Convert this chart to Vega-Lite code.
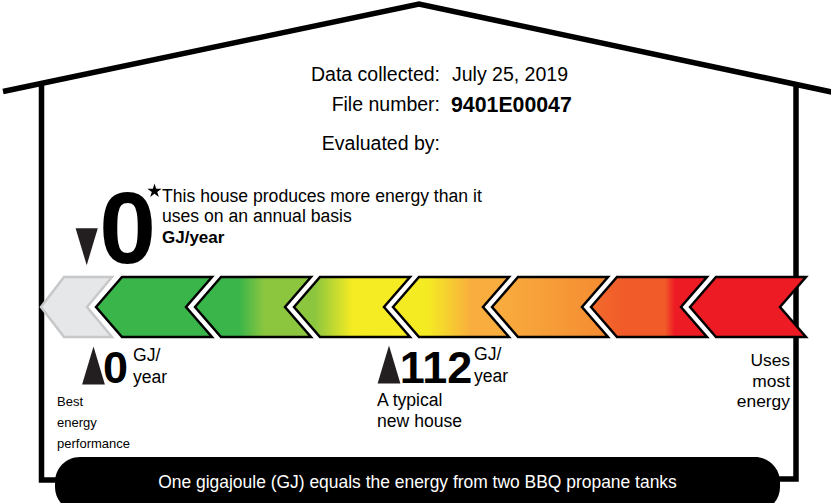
{
  "$schema": "https://vega.github.io/schema/vega-lite/v6.json",
  "width": 831,
  "height": 503,
  "autosize": {"type": "none"},
  "padding": 0,
  "background": "white",
  "config": {"view": {"stroke": null}, "text": {"font": "Liberation Sans, Arial, sans-serif"}},
  "datasets": {
    "house": [
      {"p": "roof", "i": 0, "x": 3, "y": 91.5}, {"p": "roof", "i": 1, "x": 419, "y": 4}, {"p": "roof", "i": 2, "x": 834, "y": 92.5},
      {"p": "lw", "i": 0, "x": 41.5, "y": 84}, {"p": "lw", "i": 1, "x": 41.5, "y": 480}, {"p": "lw", "i": 2, "x": 60, "y": 480},
      {"p": "rw", "i": 0, "x": 796, "y": 85}, {"p": "rw", "i": 1, "x": 796, "y": 479}, {"p": "rw", "i": 2, "x": 775, "y": 479}
    ],
    "chev": [
      {"c": "grey", "i": 0, "x": 41, "y": 307}, {"c": "grey", "i": 1, "x": 64, "y": 277}, {"c": "grey", "i": 2, "x": 112, "y": 277}, {"c": "grey", "i": 3, "x": 87, "y": 307}, {"c": "grey", "i": 4, "x": 112, "y": 337}, {"c": "grey", "i": 5, "x": 64, "y": 337},
      {"c": "c1", "i": 0, "x": 96, "y": 307}, {"c": "c1", "i": 1, "x": 122, "y": 277}, {"c": "c1", "i": 2, "x": 212, "y": 277}, {"c": "c1", "i": 3, "x": 186, "y": 307}, {"c": "c1", "i": 4, "x": 212, "y": 337}, {"c": "c1", "i": 5, "x": 122, "y": 337},
      {"c": "c2", "i": 0, "x": 195, "y": 307}, {"c": "c2", "i": 1, "x": 221, "y": 277}, {"c": "c2", "i": 2, "x": 311, "y": 277}, {"c": "c2", "i": 3, "x": 285, "y": 307}, {"c": "c2", "i": 4, "x": 311, "y": 337}, {"c": "c2", "i": 5, "x": 221, "y": 337},
      {"c": "c3", "i": 0, "x": 294, "y": 307}, {"c": "c3", "i": 1, "x": 320, "y": 277}, {"c": "c3", "i": 2, "x": 410, "y": 277}, {"c": "c3", "i": 3, "x": 384, "y": 307}, {"c": "c3", "i": 4, "x": 410, "y": 337}, {"c": "c3", "i": 5, "x": 320, "y": 337},
      {"c": "c4", "i": 0, "x": 393, "y": 307}, {"c": "c4", "i": 1, "x": 419, "y": 277}, {"c": "c4", "i": 2, "x": 509, "y": 277}, {"c": "c4", "i": 3, "x": 483, "y": 307}, {"c": "c4", "i": 4, "x": 509, "y": 337}, {"c": "c4", "i": 5, "x": 419, "y": 337},
      {"c": "c5", "i": 0, "x": 492, "y": 307}, {"c": "c5", "i": 1, "x": 518, "y": 277}, {"c": "c5", "i": 2, "x": 608, "y": 277}, {"c": "c5", "i": 3, "x": 582, "y": 307}, {"c": "c5", "i": 4, "x": 608, "y": 337}, {"c": "c5", "i": 5, "x": 518, "y": 337},
      {"c": "c6", "i": 0, "x": 591, "y": 307}, {"c": "c6", "i": 1, "x": 617, "y": 277}, {"c": "c6", "i": 2, "x": 707, "y": 277}, {"c": "c6", "i": 3, "x": 681, "y": 307}, {"c": "c6", "i": 4, "x": 707, "y": 337}, {"c": "c6", "i": 5, "x": 617, "y": 337},
      {"c": "c7", "i": 0, "x": 690, "y": 307}, {"c": "c7", "i": 1, "x": 716, "y": 277}, {"c": "c7", "i": 2, "x": 806, "y": 277}, {"c": "c7", "i": 3, "x": 780, "y": 307}, {"c": "c7", "i": 4, "x": 806, "y": 337}, {"c": "c7", "i": 5, "x": 716, "y": 337}
    ]
  },
  "encoding": {
    "x": {"field": "x", "type": "quantitative", "scale": {"domain": [0, 831], "nice": false, "zero": false}, "axis": null},
    "y": {"field": "y", "type": "quantitative", "scale": {"domain": [0, 503], "nice": false, "zero": false, "reverse": true}, "axis": null}
  },
  "layer": [
    {
      "data": {"name": "house"},
      "mark": {"type": "line", "stroke": "black", "strokeWidth": 5.5, "strokeJoin": "miter", "strokeCap": "butt"},
      "encoding": {"detail": {"field": "p"}, "order": {"field": "i", "type": "quantitative"}}
    },
    {
      "data": {"name": "chev"}, "transform": [{"filter": "datum.c == 'grey'"}],
      "mark": {"type": "line", "interpolate": "linear-closed", "fill": "#e6e7e8", "stroke": "#c7c8ca", "strokeWidth": 2.5, "strokeJoin": "miter"},
      "encoding": {"order": {"field": "i", "type": "quantitative"}}
    },
    {
      "data": {"name": "chev"}, "transform": [{"filter": "datum.c == 'c1'"}],
      "mark": {"type": "line", "interpolate": "linear-closed", "fill": "#3ab54a", "stroke": "black", "strokeWidth": 2.5, "strokeJoin": "miter"},
      "encoding": {"order": {"field": "i", "type": "quantitative"}}
    },
    {
      "data": {"name": "chev"}, "transform": [{"filter": "datum.c == 'c2'"}],
      "mark": {"type": "line", "interpolate": "linear-closed", "stroke": "black", "strokeWidth": 2.5, "strokeJoin": "miter",
        "fill": {"gradient": "linear", "x1": 0, "y1": 0, "x2": 1, "y2": 0, "stops": [{"offset": 0, "color": "#3ab54a"}, {"offset": 0.38, "color": "#3ab54a"}, {"offset": 0.6, "color": "#8cc63f"}, {"offset": 1, "color": "#8cc63f"}]}},
      "encoding": {"order": {"field": "i", "type": "quantitative"}}
    },
    {
      "data": {"name": "chev"}, "transform": [{"filter": "datum.c == 'c3'"}],
      "mark": {"type": "line", "interpolate": "linear-closed", "stroke": "black", "strokeWidth": 2.5, "strokeJoin": "miter",
        "fill": {"gradient": "linear", "x1": 0, "y1": 0, "x2": 1, "y2": 0, "stops": [{"offset": 0, "color": "#8cc63f"}, {"offset": 0.18, "color": "#8cc63f"}, {"offset": 0.5, "color": "#f4eb23"}, {"offset": 1, "color": "#f7ec22"}]}},
      "encoding": {"order": {"field": "i", "type": "quantitative"}}
    },
    {
      "data": {"name": "chev"}, "transform": [{"filter": "datum.c == 'c4'"}],
      "mark": {"type": "line", "interpolate": "linear-closed", "stroke": "black", "strokeWidth": 2.5, "strokeJoin": "miter",
        "fill": {"gradient": "linear", "x1": 0, "y1": 0, "x2": 1, "y2": 0, "stops": [{"offset": 0, "color": "#f4eb23"}, {"offset": 0.3, "color": "#f4eb23"}, {"offset": 0.68, "color": "#f9ad3e"}, {"offset": 1, "color": "#f9ad3e"}]}},
      "encoding": {"order": {"field": "i", "type": "quantitative"}}
    },
    {
      "data": {"name": "chev"}, "transform": [{"filter": "datum.c == 'c5'"}],
      "mark": {"type": "line", "interpolate": "linear-closed", "stroke": "black", "strokeWidth": 2.5, "strokeJoin": "miter",
        "fill": {"gradient": "linear", "x1": 0, "y1": 0, "x2": 1, "y2": 0, "stops": [{"offset": 0, "color": "#f9ae3f"}, {"offset": 1, "color": "#f48b31"}]}},
      "encoding": {"order": {"field": "i", "type": "quantitative"}}
    },
    {
      "data": {"name": "chev"}, "transform": [{"filter": "datum.c == 'c6'"}],
      "mark": {"type": "line", "interpolate": "linear-closed", "stroke": "black", "strokeWidth": 2.5, "strokeJoin": "miter",
        "fill": {"gradient": "linear", "x1": 0, "y1": 0, "x2": 1, "y2": 0, "stops": [{"offset": 0, "color": "#f26b2c"}, {"offset": 0.3, "color": "#f15a29"}, {"offset": 0.64, "color": "#f15a29"}, {"offset": 0.72, "color": "#ed1c24"}, {"offset": 1, "color": "#ed1c24"}]}},
      "encoding": {"order": {"field": "i", "type": "quantitative"}}
    },
    {
      "data": {"name": "chev"}, "transform": [{"filter": "datum.c == 'c7'"}],
      "mark": {"type": "line", "interpolate": "linear-closed", "fill": "#ed1c24", "stroke": "black", "strokeWidth": 2.5, "strokeJoin": "miter"},
      "encoding": {"order": {"field": "i", "type": "quantitative"}}
    },
    {
      "data": {"values": [{"x": 55, "x2": 780, "y": 457, "y2": 512}]},
      "mark": {"type": "rect", "color": "black", "cornerRadius": 25},
      "encoding": {"x2": {"field": "x2"}, "y2": {"field": "y2"}}
    },
    {
      "data": {"values": [{"t": "Data collected:", "x": 440, "y": 81}, {"t": "File number:", "x": 440, "y": 111}, {"t": "Evaluated by:", "x": 440, "y": 150}]},
      "mark": {"type": "text", "align": "right", "baseline": "alphabetic", "fontSize": 19.5, "color": "black"},
      "encoding": {"text": {"field": "t"}}
    },
    {
      "data": {"values": [{"t": "July 25, 2019", "x": 452, "y": 81}]},
      "mark": {"type": "text", "align": "left", "baseline": "alphabetic", "fontSize": 19.5, "color": "black"},
      "encoding": {"text": {"field": "t"}}
    },
    {
      "data": {"values": [{"t": "9401E00047", "x": 451, "y": 112}]},
      "mark": {"type": "text", "align": "left", "baseline": "alphabetic", "fontSize": 21.3, "fontWeight": "bold", "color": "black"},
      "encoding": {"text": {"field": "t"}}
    },
    {
      "data": {"values": [
        {"t": "This house produces more energy than it", "x": 162, "y": 202},
        {"t": "uses on an annual basis", "x": 162, "y": 222},
        {"t": "A typical", "x": 377, "y": 406},
        {"t": "new house", "x": 377, "y": 427},
        {"t": "GJ/", "x": 133, "y": 361},
        {"t": "year", "x": 133, "y": 383},
        {"t": "GJ/", "x": 474, "y": 360},
        {"t": "year", "x": 474, "y": 382}
      ]},
      "mark": {"type": "text", "align": "left", "baseline": "alphabetic", "fontSize": 17.6, "color": "black"},
      "encoding": {"text": {"field": "t"}}
    },
    {
      "data": {"values": [{"t": "GJ/year", "x": 162, "y": 243}]},
      "mark": {"type": "text", "align": "left", "baseline": "alphabetic", "fontSize": 17, "fontWeight": "bold", "color": "black"},
      "encoding": {"text": {"field": "t"}}
    },
    {
      "data": {"values": [{"t": "Uses", "x": 790, "y": 366}, {"t": "most", "x": 790, "y": 387}, {"t": "energy", "x": 790, "y": 407}]},
      "mark": {"type": "text", "align": "right", "baseline": "alphabetic", "fontSize": 17.4, "color": "black"},
      "encoding": {"text": {"field": "t"}}
    },
    {
      "data": {"values": [{"t": "Best", "x": 57, "y": 406}, {"t": "energy", "x": 57, "y": 427}, {"t": "performance", "x": 57, "y": 448}]},
      "mark": {"type": "text", "align": "left", "baseline": "alphabetic", "fontSize": 13, "color": "black"},
      "encoding": {"text": {"field": "t"}}
    },
    {
      "data": {"values": [{"t": "0", "x": 127.5, "y": 263}]},
      "mark": {"type": "text", "align": "center", "baseline": "alphabetic", "fontSize": 102, "fontWeight": "bold", "color": "black"},
      "encoding": {"text": {"field": "t"}}
    },
    {
      "data": {"values": [{"t": "0", "x": 115.5, "y": 382.5}, {"t": "112", "x": 436, "y": 382.5}]},
      "mark": {"type": "text", "align": "center", "baseline": "alphabetic", "fontSize": 45, "fontWeight": "bold", "color": "black"},
      "encoding": {"text": {"field": "t"}}
    },
    {
      "data": {"values": [{"t": "One gigajoule (GJ) equals the energy from two BBQ propane tanks", "x": 417.5, "y": 488}]},
      "mark": {"type": "text", "align": "center", "baseline": "alphabetic", "fontSize": 17.45, "color": "white"},
      "encoding": {"text": {"field": "t"}}
    },
    {
      "data": {"values": [{"m": "best", "x": 93.5, "y": 365.5}, {"m": "typical", "x": 389, "y": 364.5}]},
      "mark": {"type": "point", "shape": "M0,-1L0.6,1L-0.6,1Z", "size": 1444, "filled": true, "color": "#231f20", "opacity": 1, "strokeWidth": 0},
      "encoding": {}
    },
    {
      "data": {"values": [{"m": "house", "x": 86.7, "y": 246.7}]},
      "mark": {"type": "point", "shape": "M-0.6,-1L0.6,-1L0,1Z", "size": 1369, "filled": true, "color": "#231f20", "opacity": 1, "strokeWidth": 0},
      "encoding": {}
    },
    {
      "data": {"values": [{"m": "star", "x": 154.5, "y": 191}]},
      "mark": {"type": "point", "shape": "M0,-1L0.225,-0.309L0.951,-0.309L0.363,0.118L0.588,0.809L0,0.382L-0.588,0.809L-0.363,0.118L-0.951,-0.309L-0.225,-0.309Z", "size": 225, "filled": true, "color": "black", "opacity": 1, "strokeWidth": 0},
      "encoding": {}
    }
  ]
}
